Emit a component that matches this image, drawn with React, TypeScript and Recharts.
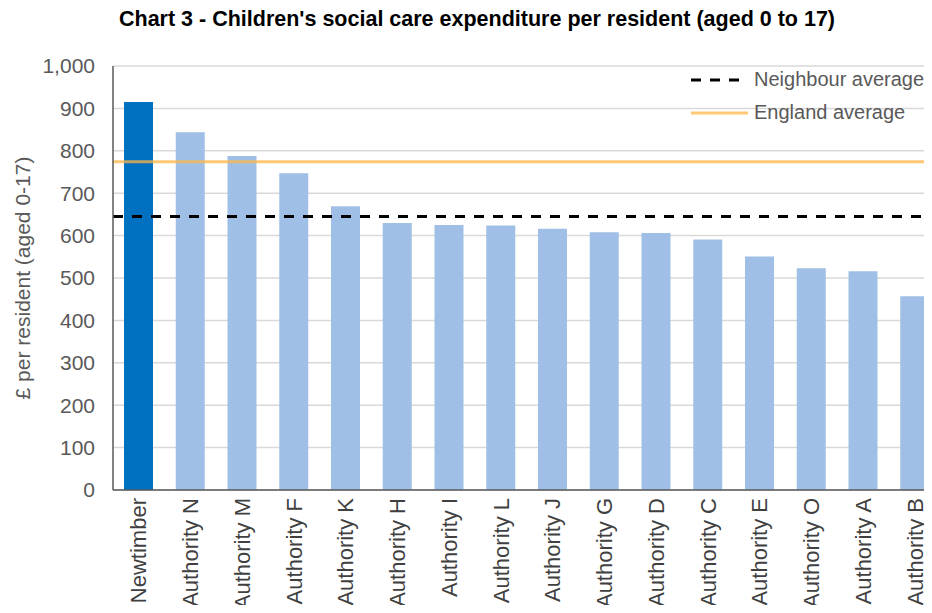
import React from "react";
import { BarChart, Bar, Cell, XAxis, YAxis, CartesianGrid, ReferenceLine } from "recharts";

const FONT = "'Liberation Sans', Arial, sans-serif";

const authorities = [
    "Newtimber", "Authority N", "Authority M", "Authority F", "Authority K", "Authority H",
    "Authority I", "Authority L", "Authority J", "Authority G", "Authority D", "Authority C",
    "Authority E", "Authority O", "Authority A", "Authority B",
];
const spendPerResident = [915, 844, 788, 747, 669, 630, 625, 624, 616, 608, 606, 591, 551, 523, 516, 457];
const neighbourAverage = 645;
const englandAverage = 774;
const yTicks = [0, 100, 200, 300, 400, 500, 600, 700, 800, 900, 1000];

const data = authorities.map((name, i) => ({ name, spend: spendPerResident[i] }));

const HIGHLIGHT = "#0070C0";
const OTHERS = "#A0BFE6";
const ENGLAND = "#FFB547";

function AuthorityTick({ x, y, payload }: any) {
    return (
        <text
            x={x}
            y={y}
            transform={`rotate(-90, ${x}, ${y})`}
            textAnchor="end"
            dominantBaseline="central"
            fill="#404040"
            fontSize={22}
            fontFamily={FONT}
        >
            {payload.value}
        </text>
    );
}

export default function App() {
    return (
        <div style={{ position: "relative", width: 932, height: 613, margin: -8, overflow: "hidden", background: "#fff", fontFamily: FONT }}>
            <div style={{ position: "absolute", top: 7, left: 0, width: 954, textAlign: "center", fontSize: 21.5, fontWeight: "bold", color: "#000" }}>
                Chart 3 - Children's social care expenditure per resident (aged 0 to 17)
            </div>

            <BarChart width={941} height={613} data={data} margin={{ top: 66, right: 0, left: 0, bottom: 0 }} barSize={29}>
                <CartesianGrid vertical={false} stroke="#d9d9d9" strokeWidth={1.5} />
                <XAxis
                    dataKey="name"
                    interval={0}
                    height={123}
                    tickLine={false}
                    tickSize={0}
                    tickMargin={8}
                    tick={<AuthorityTick />}
                    axisLine={{ stroke: "#595959", strokeWidth: 1.5 }}
                />
                <YAxis
                    width={113}
                    domain={[0, 1000]}
                    ticks={yTicks}
                    interval={0}
                    tickLine={false}
                    tickSize={0}
                    tickMargin={18}
                    tickFormatter={(v: number) => v.toLocaleString("en-GB")}
                    tick={{ fill: "#595959", fontSize: 21, fontFamily: FONT }}
                    axisLine={{ stroke: "#595959", strokeWidth: 1.5 }}
                    label={{ value: "£ per resident (aged 0-17)", angle: -90, position: "center", dx: -34, fill: "#595959", fontSize: 21, fontFamily: FONT }}
                />
                <Bar dataKey="spend" isAnimationActive={false}>
                    {data.map((d, i) => (
                        <Cell key={d.name} fill={i === 0 ? HIGHLIGHT : OTHERS} />
                    ))}
                </Bar>
                <ReferenceLine y={englandAverage} stroke={ENGLAND} strokeOpacity={0.75} strokeWidth={3} />
                <ReferenceLine y={neighbourAverage} stroke="#000" strokeWidth={3} strokeDasharray="10 9" />
            </BarChart>

            {/* legend for the two average lines */}
            <div style={{ position: "absolute", left: 690, top: 63, fontSize: 20, color: "#595959", lineHeight: "33px" }}>
                <div style={{ display: "flex", alignItems: "center" }}>
                    <svg width={60} height={6} style={{ marginRight: 4 }}>
                        <line x1={1} y1={3} x2={50} y2={3} stroke="#000" strokeWidth={3} strokeDasharray="10 9" />
                    </svg>
                    Neighbour average
                </div>
                <div style={{ display: "flex", alignItems: "center" }}>
                    <svg width={60} height={6} style={{ marginRight: 4 }}>
                        <line x1={1} y1={3} x2={58} y2={3} stroke={ENGLAND} strokeOpacity={0.75} strokeWidth={3} />
                    </svg>
                    England average
                </div>
            </div>
        </div>
    );
}
